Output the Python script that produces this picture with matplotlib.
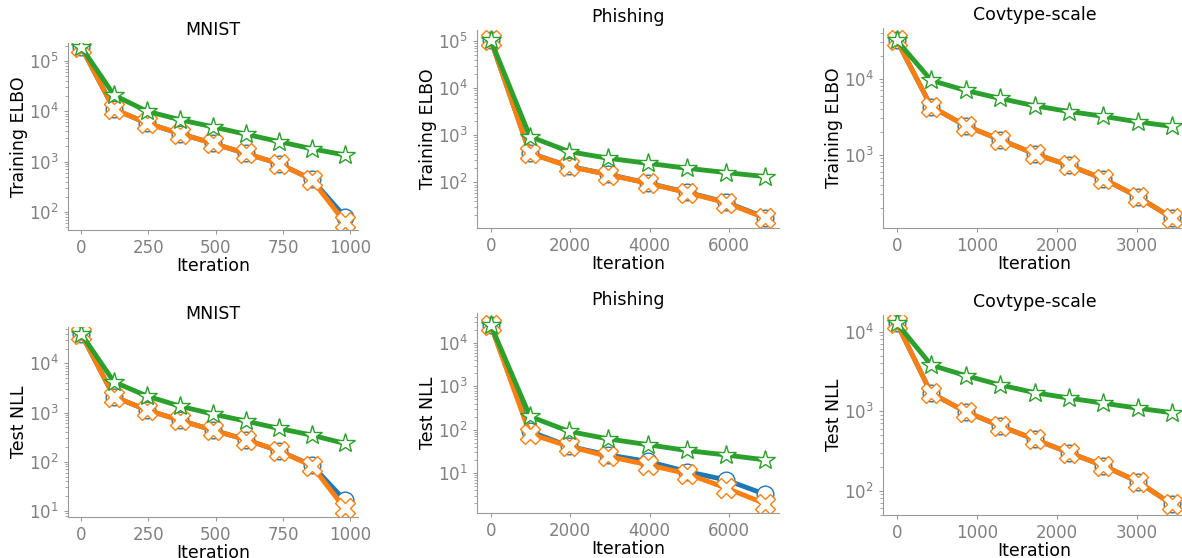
import numpy as np
import matplotlib.pyplot as plt

# iterations per dataset
iters_mnist = [0, 122, 245, 367, 490, 612, 735, 857, 980]
iters_phish = [0, 988, 1976, 2964, 3952, 4940, 5928, 6916]
iters_cov = [0, 430, 860, 1290, 1720, 2150, 2580, 3010, 3440]

# Training ELBO
elbo_mnist_blue = [1.9e5, 1.1e4, 5.8e3, 3.6e3, 2.3e3, 1.45e3, 910, 445, 80]
elbo_mnist_orange = [1.9e5, 1.1e4, 5.8e3, 3.6e3, 2.3e3, 1.45e3, 910, 440, 62]
elbo_mnist_green = [1.9e5, 2.1e4, 1.0e4, 6.8e3, 4.9e3, 3.5e3, 2.5e3, 1.8e3, 1.35e3]

elbo_phish_blue = [1.05e5, 420, 220, 148, 97, 62, 38, 18]
elbo_phish_orange = [1.05e5, 415, 218, 146, 96, 61, 37, 17.5]
elbo_phish_green = [1.05e5, 940, 450, 325, 255, 200, 162, 133]

elbo_cov_blue = [3.2e4, 4.3e3, 2.4e3, 1.58e3, 1.03e3, 724, 482, 280, 147]
elbo_cov_orange = [3.2e4, 4.3e3, 2.4e3, 1.58e3, 1.03e3, 724, 482, 280, 147]
elbo_cov_green = [3.2e4, 9.5e3, 7.0e3, 5.5e3, 4.4e3, 3.7e3, 3.2e3, 2.7e3, 2.36e3]

# Test NLL
nll_mnist_blue = [4.0e4, 2.1e3, 1.12e3, 700, 437, 282, 166, 85, 16.4]
nll_mnist_orange = [4.0e4, 2.1e3, 1.12e3, 700, 437, 282, 166, 83, 11.2]
nll_mnist_green = [4.0e4, 4.2e3, 2.16e3, 1.35e3, 930, 670, 475, 347, 235]

nll_phish_blue = [2.6e4, 91, 41, 26, 18.5, 10.8, 6.9, 3.2]
nll_phish_orange = [2.6e4, 80, 41, 24, 15.5, 9.6, 4.5, 1.95]
nll_phish_green = [2.6e4, 202, 91, 61, 45, 33, 26, 20]

nll_cov_blue = [1.28e4, 1.68e3, 986, 652, 443, 301, 206, 130, 67]
nll_cov_orange = [1.28e4, 1.68e3, 986, 652, 443, 301, 206, 130, 67]
nll_cov_green = [1.28e4, 3.8e3, 2.8e3, 2.14e3, 1.71e3, 1.46e3, 1.26e3, 1.09e3, 955]

W, H = 1182, 558
fig = plt.figure(figsize=(W / 100, H / 100), dpi=100)

# (left, top, right, bottom) in pixels, plus y limits
panels = [
    ("MNIST", "Training ELBO", iters_mnist, elbo_mnist_blue, elbo_mnist_orange, elbo_mnist_green,
     (68, 43, 358, 230), (43.6, 2.28e5)),
    ("Phishing", "Training ELBO", iters_phish, elbo_phish_blue, elbo_phish_orange, elbo_phish_green,
     (477, 30, 779, 228), (10.8, 1.71e5)),
    ("Covtype-scale", "Training ELBO", iters_cov, elbo_cov_blue, elbo_cov_orange, elbo_cov_green,
     (883, 28, 1186, 228), (108.6, 4.64e4)),
    ("MNIST", "Test NLL", iters_mnist, nll_mnist_blue, nll_mnist_orange, nll_mnist_green,
     (68, 327, 358, 517), (7.5, 5.5e4)),
    ("Phishing", "Test NLL", iters_phish, nll_phish_blue, nll_phish_orange, nll_phish_green,
     (477, 313, 779, 513), (1.19, 4.93e4)),
    ("Covtype-scale", "Test NLL", iters_cov, nll_cov_blue, nll_cov_orange, nll_cov_green,
     (883, 315, 1186, 515), (49.4, 1.62e4)),
]

grey = '#808080'
for title, ylabel, x, b, o, g, box, ylim in panels:
    l, t, r, bt = box
    ax = fig.add_axes([l / W, 1 - bt / H, (r - l) / W, (bt - t) / H])
    ax.plot(x, b, '-o', color='tab:blue', lw=3.5, ms=12, mfc='white', mec='tab:blue', mew=1)
    ax.plot(x, o, '-X', color='tab:orange', lw=3.5, ms=15, mfc='white', mec='tab:orange', mew=1)
    ax.plot(x, g, '-*', color='tab:green', lw=3.5, ms=15, mfc='white', mec='tab:green', mew=1)
    ax.set_yscale('log')
    ax.set_ylim(*ylim)
    ax.set_title(title, fontsize=12.5)
    ax.set_xlabel('Iteration', fontsize=12.5, labelpad=0)
    ax.set_ylabel(ylabel, fontsize=12.5, labelpad=1)
    for s in ['top', 'right']:
        ax.spines[s].set_visible(False)
    for s in ['left', 'bottom']:
        ax.spines[s].set_color('#999999')
    ax.tick_params(which='both', colors='#999999', labelcolor=grey, labelsize=12)
    ax.tick_params(which='major', length=3)
    ax.tick_params(which='minor', length=2)

fig.savefig('out.png', dpi=100)
